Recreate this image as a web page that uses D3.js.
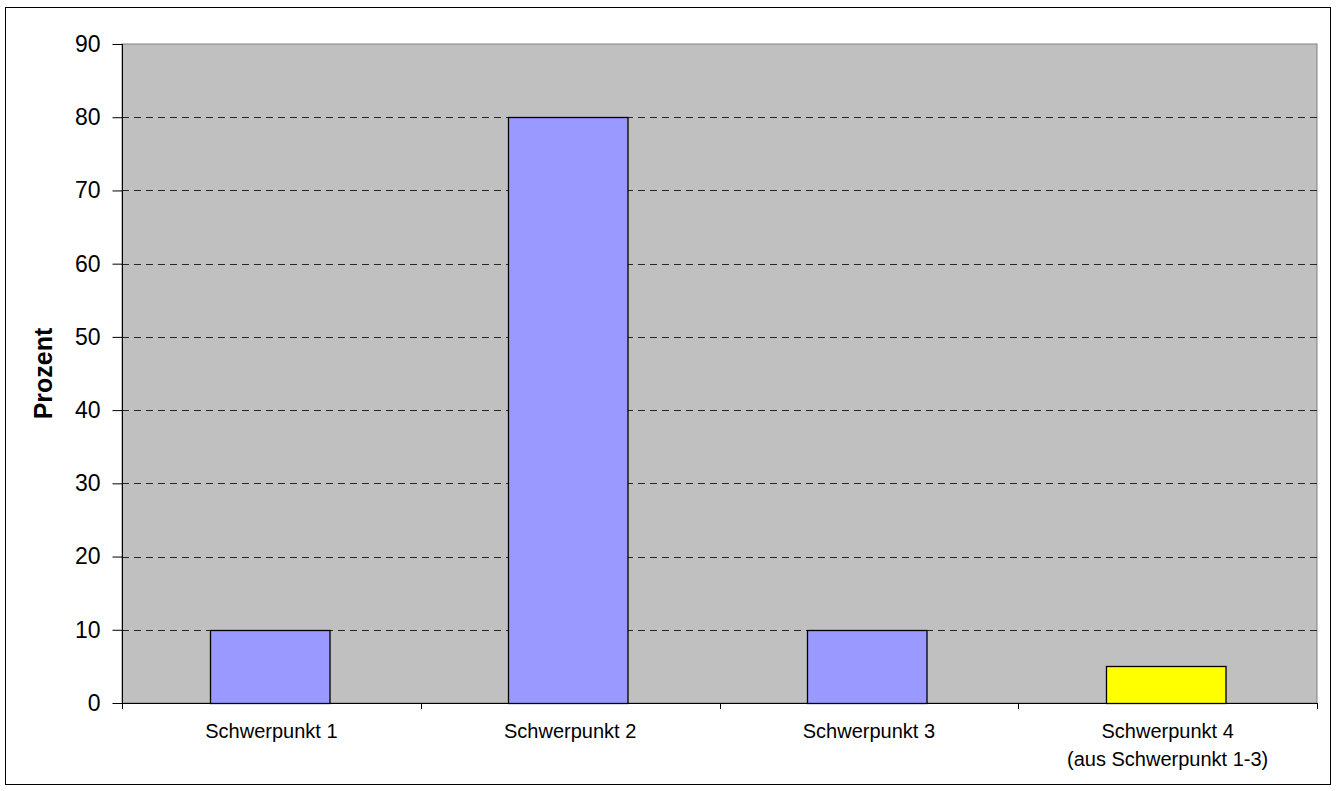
<!DOCTYPE html>
<html>
<head>
<meta charset="utf-8">
<script src="https://cdn.jsdelivr.net/npm/d3@7"></script>
<style>
  body { margin: 0; background: #fff; }
  text { font-family: "Liberation Sans", Arial, sans-serif; }
</style>
</head>
<body>
<div class="canvas"></div>
<script>
// data
const categories = ['Schwerpunkt 1', 'Schwerpunkt 2', 'Schwerpunkt 3', 'Schwerpunkt 4\n(aus Schwerpunkt 1-3)'];
const values = [10, 80, 10, 5];
const barColors = ['#9999ff', '#9999ff', '#9999ff', '#ffff00'];
const yTicks = [0, 10, 20, 30, 40, 50, 60, 70, 80, 90];

const width = 1336, height = 791;
const margin = { top: 44, right: 19, bottom: 88, left: 122 };

const svg = d3.select('.canvas').append('svg')
  .attr('width', width)
  .attr('height', height);

// outer frame
svg.append('rect')
  .attr('x', 5.5).attr('y', 7.5)
  .attr('width', 1325).attr('height', 777)
  .attr('fill', '#fff').attr('stroke', '#000');

const x = d3.scaleBand()
  .domain(categories)
  .range([margin.left, width - margin.right])
  .paddingInner(0.6)
  .paddingOuter(0.3);

const xBound = d3.scaleLinear()
  .domain([0, categories.length])
  .range([margin.left, width - margin.right]);

const y = d3.scaleLinear()
  .domain([0, 90])
  .range([height - margin.bottom, margin.top]);

// plot area
svg.append('rect')
  .attr('x', margin.left).attr('y', margin.top)
  .attr('width', width - margin.left - margin.right)
  .attr('height', height - margin.top - margin.bottom)
  .attr('fill', '#c0c0c0')
  .attr('stroke', '#808080');

// gridlines
svg.append('g')
  .selectAll('line')
  .data(yTicks.filter(d => d > 0 && d < 90))
  .join('line')
  .attr('x1', margin.left).attr('x2', width - margin.right)
  .attr('y1', d => Math.round(y(d)) + 0.5).attr('y2', d => Math.round(y(d)) + 0.5)
  .attr('stroke', '#000')
  .attr('stroke-dasharray', '7,5')
  .attr('stroke-width', 0.8);

// bars
svg.append('g')
  .selectAll('rect')
  .data(values)
  .join('rect')
  .attr('x', (d, i) => Math.round(x(categories[i])) - 1.5)
  .attr('y', d => Math.round(y(d)) + 0.5)
  .attr('width', x.bandwidth())
  .attr('height', d => y(0) - Math.round(y(d)))
  .attr('fill', (d, i) => barColors[i])
  .attr('stroke', '#000')
  .attr('stroke-width', 1.3);

// y axis
const yAxis = svg.append('g')
  .attr('transform', `translate(${margin.left + 0.5},0)`)
  .call(d3.axisLeft(y).tickValues(yTicks).tickSize(10).tickPadding(12));
yAxis.selectAll('text').attr('font-size', 23).attr('fill', '#000');
yAxis.selectAll('line').attr('stroke', '#000');
yAxis.select('.domain').attr('stroke', '#000').attr('d', `M0,${y(90)}V${y(0)}`);

// x axis
const xLine = svg.append('g');
xLine.append('line')
  .attr('x1', margin.left).attr('x2', width - margin.right)
  .attr('y1', y(0) + 0.5).attr('y2', y(0) + 0.5)
  .attr('stroke', '#000');
xLine.selectAll('.tick')
  .data(d3.range(categories.length + 1))
  .join('line')
  .attr('x1', d => Math.round(xBound(d)) + 0.5).attr('x2', d => Math.round(xBound(d)) + 0.5)
  .attr('y1', y(0)).attr('y2', y(0) + 6)
  .attr('stroke', '#000');

// x labels
svg.append('g')
  .selectAll('text')
  .data(categories)
  .join('text')
  .attr('x', d => x(d) + x.bandwidth() / 2)
  .attr('y', y(0) + 35)
  .attr('text-anchor', 'middle')
  .attr('font-size', 20)
  .each(function (d) {
    d.split('\n').forEach((line, i) => {
      d3.select(this).append('tspan')
        .attr('x', x(d) + x.bandwidth() / 2)
        .attr('dy', i === 0 ? 0 : 28)
        .text(line);
    });
  });

// y title
svg.append('text')
  .attr('transform', `translate(52,${(y(0) + y(90)) / 2}) rotate(-90)`)
  .attr('text-anchor', 'middle')
  .attr('font-size', 25)
  .attr('font-weight', 'bold')
  .text('Prozent');
</script>
</body>
</html>
